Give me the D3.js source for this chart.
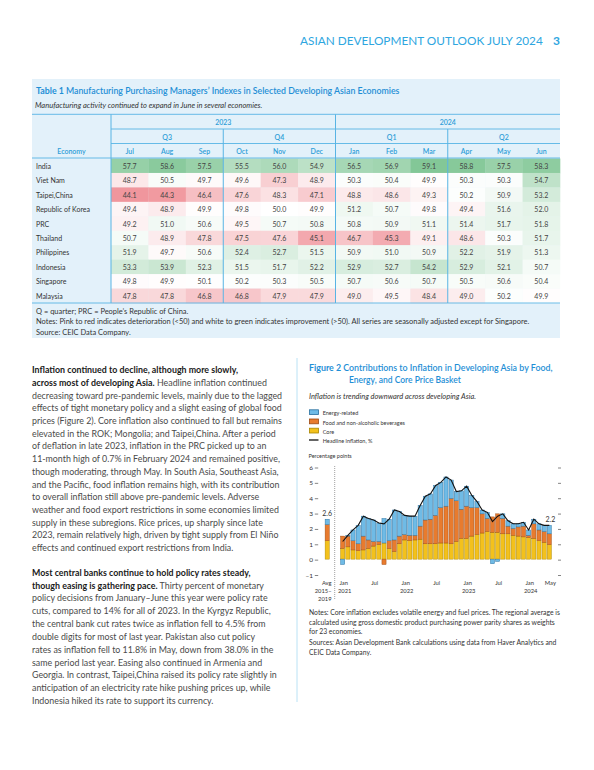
<!DOCTYPE html>
<html><head><meta charset="utf-8">
<script src="https://cdn.jsdelivr.net/npm/d3@7"></script>
<style>
body{margin:0;background:#fff}
svg{display:block}
text{font-family:Lato,"Open Sans","Noto Sans",sans-serif}
</style>
</head><body>
<svg id="c" width="594" height="770"></svg>
<script>
// ---------------- DATA ----------------
const economies = ["India","Viet Nam","Taipei,China","Republic of Korea","PRC","Thailand","Philippines","Indonesia","Singapore","Malaysia"];
const years = ["2023","2024"];
const quarters = ["Q3","Q4","Q1","Q2"];
const tableMonths = ["Jul","Aug","Sep","Oct","Nov","Dec","Jan","Feb","Mar","Apr","May","Jun"];
const pmiIndia       = [57.7,58.6,57.5,55.5,56.0,54.9,56.5,56.9,59.1,58.8,57.5,58.3];
const pmiVietNam     = [48.7,50.5,49.7,49.6,47.3,48.9,50.3,50.4,49.9,50.3,50.3,54.7];
const pmiTaipei      = [44.1,44.3,46.4,47.6,48.3,47.1,48.8,48.6,49.3,50.2,50.9,53.2];
const pmiKorea       = [49.4,48.9,49.9,49.8,50.0,49.9,51.2,50.7,49.8,49.4,51.6,52.0];
const pmiPRC         = [49.2,51.0,50.6,49.5,50.7,50.8,50.8,50.9,51.1,51.4,51.7,51.8];
const pmiThailand    = [50.7,48.9,47.8,47.5,47.6,45.1,46.7,45.3,49.1,48.6,50.3,51.7];
const pmiPhilippines = [51.9,49.7,50.6,52.4,52.7,51.5,50.9,51.0,50.9,52.2,51.9,51.3];
const pmiIndonesia   = [53.3,53.9,52.3,51.5,51.7,52.2,52.9,52.7,54.2,52.9,52.1,50.7];
const pmiSingapore   = [49.8,49.9,50.1,50.2,50.3,50.5,50.7,50.6,50.7,50.5,50.6,50.4];
const pmiMalaysia    = [47.8,47.8,46.8,46.8,47.9,47.9,49.0,49.5,48.4,49.0,50.2,49.9];

// Figure 2 (Jan 2021 - May 2024, 41 months) + 2015-2019 average
const avgLabel = "Avg 2015–2019";
const avgCore = 1.20, avgFood = 1.05, avgEnergy = 0.35, avgHeadline = 2.6;
const coreValues   = [0.70,0.80,0.60,0.55,0.60,0.70,0.85,0.95,1.05,0.70,0.50,1.00,1.25,1.20,1.25,1.30,1.00,1.00,1.00,1.05,1.05,1.00,1.15,1.35,1.35,1.50,1.60,1.70,1.80,1.75,1.75,1.65,1.65,1.55,1.50,1.45,1.40,1.35,1.20,1.10,0.95];
const foodValues   = [0.80,0.70,0.60,0.45,0.90,0.55,0.30,0.20,-0.35,0.50,0.75,0.50,0.35,0.35,0.30,0.85,1.55,1.60,1.85,2.30,2.40,2.95,2.65,1.90,2.10,1.85,1.75,1.25,0.85,1.00,1.20,1.00,0.50,0.45,0.60,0.70,0.15,0.95,0.70,0.70,0.70];
const energyValues = [-0.35,0.05,0.70,1.20,1.30,1.40,1.40,1.20,1.60,1.40,1.95,1.60,1.25,1.25,1.25,1.35,1.55,1.65,1.95,1.65,1.90,1.20,0.60,1.20,1.30,0.80,0.40,0.25,0.40,-0.30,-0.15,0.30,0.35,0.30,0.20,0.25,0.35,0.30,0.40,0.40,0.55];
const headlineValues = [1.15,1.55,1.9,2.2,2.8,2.65,2.55,2.35,2.3,2.6,3.2,3.1,2.85,2.8,2.8,3.5,4.1,4.25,4.8,5.0,5.35,5.15,4.4,4.45,4.75,4.15,3.75,3.2,3.05,2.45,2.8,2.95,2.5,2.3,2.3,2.4,1.9,2.6,2.3,2.2,2.2];
const yTicks = [-1,0,1,2,3,4,5,6];
const xTickLabels = [[0,"Jan","2021"],[6,"Jul",""],[12,"Jan","2022"],[18,"Jul",""],[24,"Jan","2023"],[30,"Jul",""],[36,"Jan","2024"],[40,"May",""]];
const legendLabels = ["Energy-related","Food and non-alcoholic beverages","Core","Headline inflation, %"];

// ---------------- HELPERS ----------------
const svg = d3.select("#c");
function addText(x, y, parts, opt) {
  const t = svg.append("text")
    .attr("font-size", opt.size)
    .attr("fill", opt.fill || "#444")
    .attr("font-style", opt.style || null)
    .attr("font-weight", opt.weight || null)
    .attr("text-anchor", opt.anchor || "start")
    .attr("dominant-baseline", "central");
  (Array.isArray(parts) ? parts : [[parts]]).forEach(p => {
    const s = t.append("tspan").text(p[0]);
    if (p[1]) s.attr("font-weight", p[1]);
    if (p[2]) s.attr("fill", p[2]);
  });
  let k = opt.k || 1;
  if (opt.w) k = opt.w / t.node().getComputedTextLength();
  t.attr("transform", `translate(${x},${y}) scale(${k},1)`);
  return t;
}

// ---------------- PAGE HEADER ----------------
addText(300, 40, "ASIAN DEVELOPMENT OUTLOOK JULY 2024", {size: 12, fill: "#2ea6df", w: 243});
addText(553, 40, [["3","bold"]], {size: 12, fill: "#2ea6df"});

// ---------------- TABLE ----------------
const boxX0 = 32, boxX1 = 560, econX1 = 111;
svg.append("rect").attr("x", boxX0).attr("y", 79).attr("width", boxX1 - boxX0).attr("height", 259).attr("fill", "#e3f1fa");
addText(36, 90, [["Table 1  ", "bold"], ["Manufacturing Purchasing Managers’ Indexes in Selected Developing Asian Economies", "600"]], {size: 8.5, fill: "#1f8fd6", w: 364});
addText(35, 105.5, "Manufacturing activity continued to expand in June in several economies.", {size: 7.2, fill: "#333", style: "italic", w: 227});

const pmiRows = [pmiIndia, pmiVietNam, pmiTaipei, pmiKorea, pmiPRC, pmiThailand, pmiPhilippines, pmiIndonesia, pmiSingapore, pmiMalaysia];
const colX = d3.scaleBand().domain(d3.range(12)).range([econX1, boxX1]);
const rowY = d3.scaleBand().domain(economies).range([158.5, 303]);
const heat = d3.scaleLinear().domain([44.1, 50, 59.1]).range(["#f0969d", "#ffffff", "#83c797"]).clamp(true);

const cells = [];
pmiRows.forEach((vals, r) => vals.forEach((v, c) => cells.push({econ: economies[r], c, v})));
svg.append("g").selectAll("rect").data(cells).join("rect")
  .attr("x", d => colX(d.c)).attr("y", d => rowY(d.econ))
  .attr("width", colX.bandwidth() + 0.3).attr("height", rowY.bandwidth() + 0.3)
  .attr("fill", d => heat(d.v));
svg.append("g").selectAll("text").data(cells).join("text")
  .attr("x", d => colX(d.c) + colX.bandwidth() / 2).attr("y", d => rowY(d.econ) + rowY.bandwidth() / 2)
  .attr("text-anchor", "middle").attr("dominant-baseline", "central")
  .attr("font-size", 7).attr("fill", "#444").text(d => d.v.toFixed(1));
svg.append("g").selectAll("text").data(economies).join("text")
  .attr("x", 36).attr("y", d => rowY(d) + rowY.bandwidth() / 2)
  .attr("dominant-baseline", "central").attr("font-size", 7).attr("fill", "#333").text(d => d);

const hdrBlue = "#2f9ed8", lineBlue = "#58b4e4";
years.forEach((yr, i) => addText((colX(i * 6) + colX(i * 6 + 5) + colX.bandwidth()) / 2, 121.7, yr, {size: 7, fill: hdrBlue, anchor: "middle", weight: "600"}));
quarters.forEach((q, i) => addText((colX(i * 3) + colX(i * 3 + 2) + colX.bandwidth()) / 2, 136.7, q, {size: 7, fill: hdrBlue, anchor: "middle", weight: "600"}));
tableMonths.forEach((m, i) => addText(colX(i) + colX.bandwidth() / 2, 151, m, {size: 7, fill: hdrBlue, anchor: "middle", weight: "600"}));
addText((boxX0 + econX1) / 2, 151, "Economy", {size: 7, fill: hdrBlue, anchor: "middle", weight: "600"});

const hl = [[boxX0, 114.3, boxX1], [econX1, 129, boxX1], [econX1, 143.5, boxX1], [boxX0, 158, boxX1], [boxX0, 303, boxX1]];
hl.forEach(([a, yy, b]) => svg.append("line").attr("x1", a).attr("x2", b).attr("y1", yy).attr("y2", yy).attr("stroke", lineBlue).attr("stroke-width", 0.9));
const vl = [[econX1, 114.3], [colX(6), 114.3], [colX(3), 129], [colX(9), 129]];
vl.forEach(([xx, y0]) => svg.append("line").attr("x1", xx).attr("x2", xx).attr("y1", y0).attr("y2", 303).attr("stroke", lineBlue).attr("stroke-width", 1));

const tNotes = ["Q = quarter; PRC = People’s Republic of China.",
  "Notes: Pink to red indicates deterioration (<50) and white to green indicates improvement (>50). All series are seasonally adjusted except for Singapore.",
  "Source: CEIC Data Company."];
const tnRef = addText(36, 321.5, tNotes[1], {size: 7, fill: "#333", w: 494});
const tnK = +tnRef.attr("transform").match(/scale\(([\d.]+)/)[1];
addText(36, 310.7, tNotes[0], {size: 7, fill: "#333", k: tnK});
addText(36, 331.7, tNotes[2], {size: 7, fill: "#333", k: tnK});

// ---------------- BODY TEXT ----------------
const B = "bold", dark = "#1a1a1a";
const para1 = [
  [["Inflation continued to decline, although more slowly,", B, dark]],
  [["across most of developing Asia.", B, dark], [" Headline inflation continued"]],
  [["decreasing toward pre-pandemic levels, mainly due to the lagged"]],
  [["effects of tight monetary policy and a slight easing of global food"]],
  [["prices (Figure 2). Core inflation also continued to fall but remains"]],
  [["elevated in the ROK; Mongolia; and Taipei,China. After a period"]],
  [["of deflation in late 2023, inflation in the PRC picked up to an"]],
  [["11-month high of 0.7% in February 2024 and remained positive,"]],
  [["though moderating, through May. In South Asia, Southeast Asia,"]],
  [["and the Pacific, food inflation remains high, with its contribution"]],
  [["to overall inflation still above pre-pandemic levels. Adverse"]],
  [["weather and food export restrictions in some economies limited"]],
  [["supply in these subregions. Rice prices, up sharply since late"]],
  [["2023, remain relatively high, driven by tight supply from El Niño"]],
  [["effects and continued export restrictions from India."]]
];
const para2 = [
  [["Most central banks continue to hold policy rates steady,", B, dark]],
  [["though easing is gathering pace.", B, dark], [" Thirty percent of monetary"]],
  [["policy decisions from January–June this year were policy rate"]],
  [["cuts, compared to 14% for all of 2023. In the Kyrgyz Republic,"]],
  [["the central bank cut rates twice as inflation fell to 4.5% from"]],
  [["double digits for most of last year. Pakistan also cut policy"]],
  [["rates as inflation fell to 11.8% in May, down from 38.0% in the"]],
  [["same period last year. Easing also continued in Armenia and"]],
  [["Georgia. In contrast, Taipei,China raised its policy rate slightly in"]],
  [["anticipation of an electricity rate hike pushing prices up, while"]],
  [["Indonesia hiked its rate to support its currency."]]
];
const ref = addText(32, 369 + 4 * 12.7, para1[4], {size: 10, fill: "#4a4a4a", w: 250});
const bodyK = +ref.attr("transform").match(/scale\(([\d.]+)/)[1];
para1.forEach((ln, i) => { if (i !== 4) addText(32, 369 + i * 12.7, ln, {size: 10, fill: "#4a4a4a", k: bodyK}); });
para2.forEach((ln, i) => addText(32, 571.5 + i * 12.83, ln, {size: 10, fill: "#4a4a4a", k: bodyK}));
svg.append("line").attr("x1", 297).attr("x2", 297).attr("y1", 358).attr("y2", 702).attr("stroke", "#a8dbf2").attr("stroke-width", 0.8);

// ---------------- FIGURE 2 ----------------
const figBlue = "#1f8fd6";
addText(309, 367, [["Figure 2  ", "bold"], ["Contributions to Inflation in Developing Asia by Food,", "600"]], {size: 8.5, fill: figBlue, w: 244});
addText(349, 380, [["Energy, and Core Price Basket", "600"]], {size: 8.5, fill: figBlue, w: 112});
addText(309, 396, "Inflation is trending downward across developing Asia.", {size: 7.2, fill: "#333", style: "italic", w: 167});

const fills = {energy: "#6fbbe6", food: "#e87b2e", core: "#f3c11c"};
const strokes = {energy: "#2a6f9e", food: "#9c4a14", core: "#a98500"};
const legKeys = ["energy", "food", "core"];
legKeys.forEach((k, i) => {
  const yy = 412.2 + i * 9.2;
  svg.append("rect").attr("x", 309.5).attr("y", yy - 2.4).attr("width", 9).attr("height", 4.8)
    .attr("fill", fills[k]).attr("stroke", strokes[k]).attr("stroke-width", 0.8);
  addText(322.7, yy, legendLabels[i], {size: 6, fill: "#333", k: 0.92});
});
svg.append("line").attr("x1", 309).attr("x2", 318.5).attr("y1", 440).attr("y2", 440).attr("stroke", "#111").attr("stroke-width", 1.3);
addText(322.7, 440, legendLabels[3], {size: 6, fill: "#333", k: 0.92});
addText(308.5, 455, "Percentage points", {size: 6, fill: "#333", k: 0.92});

const monthKeys = coreValues.map((_, i) => "m" + i);
const xb = d3.scaleBand()
  .domain([avgLabel, "gap1", "gap2", ...monthKeys])
  .range([324.6, 551.9]).paddingInner(0.2).paddingOuter(0.1);
const y = d3.scaleLinear().domain([-1, 6]).range([574.5, 467]);

const rows = [{key: avgLabel, core: avgCore, food: avgFood, energy: avgEnergy}]
  .concat(monthKeys.map((k, i) => ({key: k, core: coreValues[i], food: foodValues[i], energy: energyValues[i]})));
const series = d3.stack().keys(["core", "food", "energy"]).offset(d3.stackOffsetDiverging)(rows);

const barsG = svg.append("g");
series.forEach(s => {
  barsG.append("g").selectAll("rect").data(s).join("rect")
    .attr("x", d => xb(d.data.key)).attr("width", xb.bandwidth())
    .attr("y", d => y(Math.max(d[0], d[1]))).attr("height", d => Math.abs(y(d[0]) - y(d[1])))
    .attr("fill", fills[s.key]).attr("stroke", strokes[s.key]).attr("stroke-width", 0.45);
});

const cx = k => xb(k) + xb.bandwidth() / 2;
svg.append("path").datum(headlineValues)
  .attr("d", d3.line().x((d, i) => cx(monthKeys[i])).y(d => y(d)))
  .attr("fill", "none").attr("stroke", "#111").attr("stroke-width", 1.1);

addText(cx(avgLabel), y(avgHeadline) - 6, avgHeadline.toFixed(1), {size: 7, fill: "#333", anchor: "middle"});
addText(cx(monthKeys[40]) + 1, y(headlineValues[40]) - 6, headlineValues[40].toFixed(1), {size: 7, fill: "#333", anchor: "middle"});

// dotted separator
svg.append("line").attr("x1", 334.7).attr("x2", 334.7).attr("y1", 466).attr("y2", 600)
  .attr("stroke", "#555").attr("stroke-width", 0.7).attr("stroke-dasharray", "0.8,1.2");

// y axis ticks (left labels + ticks, right ticks)
yTicks.forEach(v => {
  addText(313, y(v), v < 0 ? "–" + Math.abs(v) : String(v), {size: 6.5, fill: "#333", anchor: "end"});
  svg.append("line").attr("x1", 314.8).attr("x2", 318.2).attr("y1", y(v) + 1).attr("y2", y(v) + 1).attr("stroke", "#333").attr("stroke-width", 0.6);
  svg.append("line").attr("x1", 558).attr("x2", 561).attr("y1", y(v) + 1).attr("y2", y(v) + 1).attr("stroke", "#333").attr("stroke-width", 0.6);
});

// x labels
xTickLabels.forEach(([i, a, b]) => {
  addText(cx(monthKeys[i]) + 1, 581.7, a, {size: 6.3, fill: "#333", anchor: "middle", k: 0.92});
  if (b) addText(cx(monthKeys[i]) + 2, 589.5, b, {size: 6.3, fill: "#333", anchor: "middle", k: 0.92});
});
addText(331.5, 581.7, "Avg", {size: 6.3, fill: "#333", anchor: "end", k: 0.92});
addText(331.5, 589.5, "2015–", {size: 6.3, fill: "#333", anchor: "end", k: 0.92});
addText(331.5, 597.7, "2019", {size: 6.3, fill: "#333", anchor: "end", k: 0.92});

// figure notes
const fNotes = [
  "Notes: Core inflation excludes volatile energy and fuel prices. The regional average is",
  "calculated using gross domestic product purchasing power parity shares as weights",
  "for 23 economies.",
  "Sources: Asian Development Bank calculations using data from Haver Analytics and",
  "CEIC Data Company."
];
const fnY = [612.3, 621.7, 630.7, 641.7, 651.7];
const fnRef = addText(309, fnY[0], fNotes[0], {size: 6.8, fill: "#333", w: 251});
const fnK = +fnRef.attr("transform").match(/scale\(([\d.]+)/)[1];
fNotes.forEach((n, i) => { if (i > 0) addText(309, fnY[i], n, {size: 6.8, fill: "#333", k: fnK}); });
</script>
</body></html>
